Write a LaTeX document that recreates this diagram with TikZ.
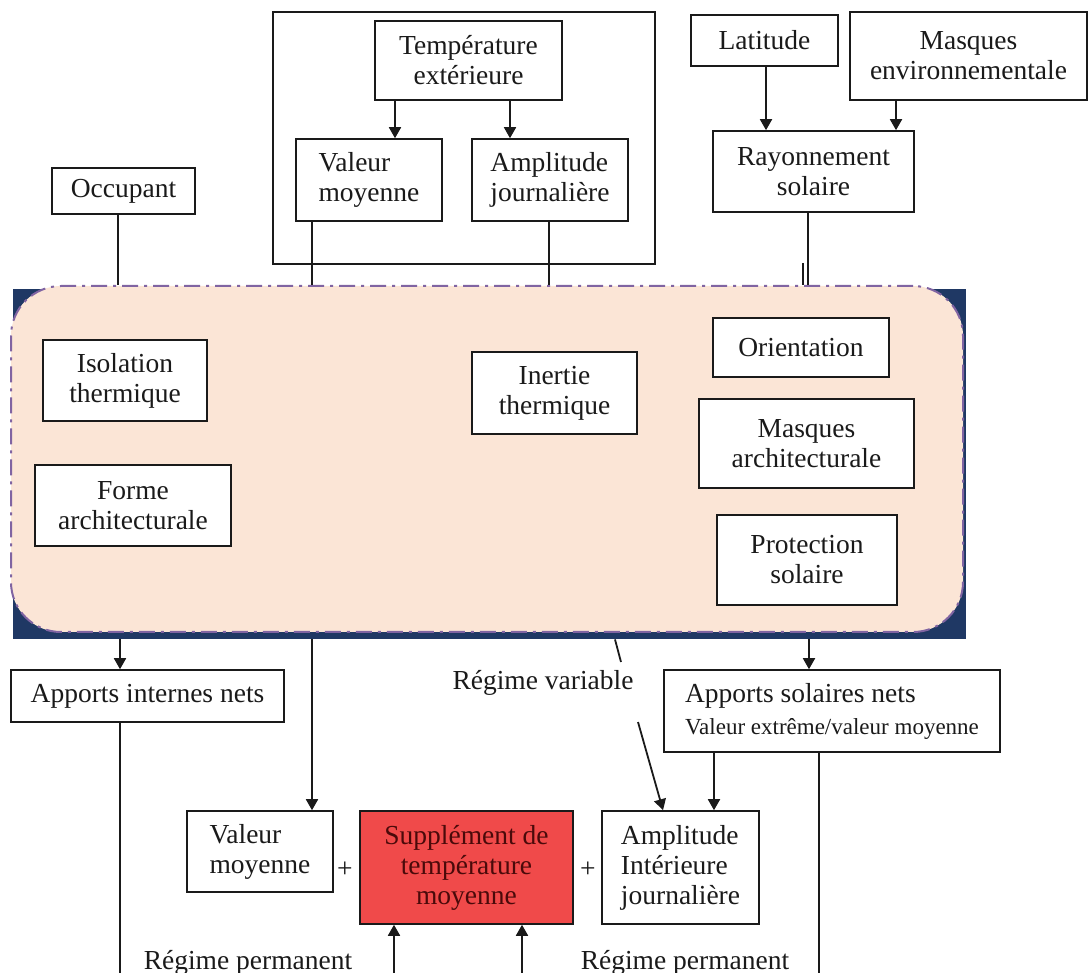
\documentclass[tikz,border=0pt]{standalone}
\usepackage{fontspec}
\setmainfont{Liberation Serif}
\usetikzlibrary{arrows.meta}
\definecolor{peach}{HTML}{FBE5D6}
\definecolor{purp}{HTML}{8064A2}
\definecolor{navyc}{HTML}{1F3864}
\definecolor{redbox}{HTML}{F04A4A}
\definecolor{maroonc}{HTML}{4A0A0A}
\definecolor{ink}{HTML}{1A1A1A}
\begin{document}
\begin{tikzpicture}[x=0.5pt,y=-0.5pt,
  box/.style={draw=ink, line width=0.8pt, fill=white, inner sep=2pt, text=ink,
    font=\fontsize{13.75}{15}\selectfont},
  arr/.style={draw=ink, line width=0.9pt, -{Triangle[length=5.5pt,width=6pt]}},
  ln/.style={draw=ink, line width=0.9pt},
  lbl/.style={inner sep=0pt, text=ink, font=\fontsize{13.75}{15}\selectfont},
  zonebox/.style={fill=peach, draw=purp, line width=1pt, rounded corners=25pt,
    dash pattern=on 8pt off 3pt on 1.5pt off 3pt}]
\useasboundingbox (0,0) rectangle (1089,973);

% ---------- top ----------
\node[box, minimum width=71.5pt, minimum height=23pt] (occ) at (123.5,191) {Occupant};
\node[draw=ink, line width=0.8pt, minimum width=191pt, minimum height=126pt, inner sep=0pt] (frame) at (464,138) {};
\node[box, align=center, minimum width=93.5pt, minimum height=39.5pt] (text) at (468.5,60.5) {Température\\extérieure};
\node[box, align=left, minimum width=73pt, minimum height=41pt] (vm1) at (369,180) {Valeur\\moyenne};
\node[box, align=left, minimum width=78pt, minimum height=41pt] (amp1) at (550,180) {Amplitude\\journalière};
\node[box, minimum width=73.5pt, minimum height=25.5pt] (lat) at (764.5,40.5) {Latitude};
\node[box, align=center, minimum width=118.5pt, minimum height=44pt] (menv) at (968.5,56) {Masques\\environnementale};
\node[box, align=center, minimum width=100.5pt, minimum height=40.5pt] (ray) at (813.5,171.5) {Rayonnement\\solaire};

% ---------- central zone ----------
\node[fill=navyc, inner sep=0pt, minimum width=476.5pt, minimum height=175pt] (back) at (489.5,464) {};
\node[zonebox, inner sep=0pt, minimum width=476pt, minimum height=173pt] (zone) at (487,459) {};

\node[box, align=center, minimum width=82pt, minimum height=40.5pt] (iso) at (125,380.5) {Isolation\\thermique};
\node[box, align=center, minimum width=98pt, minimum height=40.5pt] (forme) at (133,505.5) {Forme\\architecturale};
\node[box, align=center, minimum width=82.5pt, minimum height=41pt] (inert) at (554.5,393) {Inertie\\thermique};
\node[box, minimum width=88pt, minimum height=29.5pt] (orient) at (801,347.5) {Orientation};
\node[box, align=center, minimum width=107.5pt, minimum height=44.5pt] (masq) at (806.5,443.5) {Masques\\architecturale};
\node[box, align=center, minimum width=90pt, minimum height=45pt] (prot) at (807,560) {Protection\\solaire};

% ---------- bottom ----------
\node[box, minimum width=136.5pt, minimum height=26pt] (ain) at (147.5,696) {Apports internes nets};
\node[box, align=left, minimum width=168pt, minimum height=41pt] (asol) at (832,711)
  {Apports solaires nets\\[1pt]{\fontsize{11.5}{13}\selectfont Valeur extrême/valeur moyenne}};
\node[box, align=left, minimum width=73pt, minimum height=40.5pt] (vm2) at (260,851.5) {Valeur\\moyenne};
\node[box, fill=redbox, text=maroonc, align=center, minimum width=106.5pt, minimum height=56.5pt] (sup) at (466.5,867.5) {Supplément de\\température\\moyenne};
\node[box, align=left, minimum width=78.5pt, minimum height=56.5pt] (amp2) at (680.5,867.5) {Amplitude\\Intérieure\\journalière};

\node[lbl] (plus1) at (345,870) {+};
\node[lbl] (plus2) at (588,870) {+};
\node[lbl] (rvl) at (543,683) {Régime variable};
\node[lbl, anchor=base] (rpl) at (248,969) {Régime permanent};
\node[lbl, anchor=base] (rpr) at (685,969) {Régime permanent};

% ---------- connector positions ----------
\coordinate (a1) at (395,0);
\coordinate (a2) at (510,0);
\coordinate (a3) at (766,0);
\coordinate (a4) at (896,0);
\coordinate (t1) at (118,0);
\coordinate (t2) at (312,0);
\coordinate (t3) at (549,0);
\coordinate (t4) at (808,0);
\coordinate (t5) at (803,263);
\coordinate (b1) at (120,0);
\coordinate (b2) at (312,0);
\coordinate (b3) at (809,0);
\coordinate (b4) at (714,0);
\coordinate (e1) at (120,973);
\coordinate (e2) at (819,973);
\coordinate (e3) at (394,973);
\coordinate (e4) at (522,973);
\coordinate (rv0) at (615,0);
\coordinate (rv1) at (621,662);
\coordinate (rv2) at (638,722);
\coordinate (rv3) at (663,0);

% ---------- connectors ----------
\draw[arr] (text.south -| a1) -- (vm1.north -| a1);
\draw[arr] (text.south -| a2) -- (amp1.north -| a2);
\draw[arr] (lat.south -| a3) -- (ray.north -| a3);
\draw[arr] (menv.south -| a4) -- (ray.north -| a4);

\draw[ln] (occ.south -| t1) -- (zone.north -| t1);
\draw[ln] (vm1.south -| t2) -- (zone.north -| t2);
\draw[ln] (amp1.south -| t3) -- (zone.north -| t3);
\draw[ln] (ray.south -| t4) -- (zone.north -| t4);
\draw[ln] (t5) -- (zone.north -| t5);

\draw[arr] (back.south -| b1) -- (ain.north -| b1);
\draw[ln] (ain.south -| e1) -- (e1);
\draw[arr] (back.south -| b2) -- (vm2.north -| b2);
\draw[arr] (back.south -| b3) -- (asol.north -| b3);
\draw[arr] (asol.south -| b4) -- (amp2.north -| b4);
\draw[ln] (asol.south -| e2) -- (e2);
\draw[ln] (back.south -| rv0) -- (rv1);
\draw[arr] (rv2) -- (amp2.north -| rv3);
\draw[arr] (e3) -- (sup.south -| e3);
\draw[arr] (e4) -- (sup.south -| e4);
\end{tikzpicture}
\end{document}
